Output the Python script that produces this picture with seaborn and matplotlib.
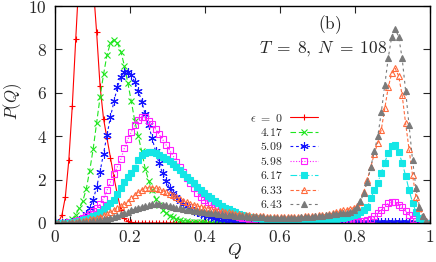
import numpy as np
import pandas as pd
import matplotlib
matplotlib.use("Agg")
import matplotlib.pyplot as plt
import seaborn as sns

# ---------------------------------------------
# DATA  (overlap Q = n/N with N = 108)
# ---------------------------------------------
Q = np.arange(109) / 108

eps_labels = [r"$\epsilon\ =\ 0$", r"$4.17$", r"$5.09$", r"$5.98$",
              r"$6.17$", r"$6.33$", r"$6.43$"]

p_eps0 = [0, 0.05, 0.35, 1.2, 2.9, 5.4, 8.5, 11.5, 13.5, 14.0,
          13.0, 11.0, 8.8, 6.3, 4.8, 3.9, 3.0, 2.1, 1.3, 0.6,
          0.22, 0.08, 0.03, 0.01, 0, 0, 0, 0, 0, 0,
          0, 0, 0, 0, 0, 0, 0, 0, 0, 0,
          0, 0, 0, 0, 0, 0, 0, 0, 0, 0,
          0, 0, 0, 0, 0, 0, 0, 0, 0, 0,
          0, 0, 0, 0, 0, 0, 0, 0, 0, 0,
          0, 0, 0, 0, 0, 0, 0, 0, 0, 0,
          0, 0, 0, 0, 0, 0, 0, 0, 0, 0,
          0, 0, 0, 0, 0, 0, 0, 0, 0, 0,
          0, 0, 0, 0, 0, 0, 0, 0, 0]

p_417 = [0, 0, 0.01, 0.04, 0.1, 0.2, 0.38, 0.68, 1.0, 1.55,
         2.4, 3.4, 4.6, 5.8, 6.85, 7.75, 8.3, 8.45, 8.3, 7.9,
         7.25, 6.45, 5.6, 4.7, 4.0, 3.3, 2.5, 1.95, 1.5, 1.12,
         0.82, 0.6, 0.45, 0.34, 0.26, 0.2, 0.15, 0.11, 0.08, 0.06,
         0.05, 0.04, 0.03, 0.03, 0.02, 0.02, 0.02, 0.01, 0.01, 0.01,
         0.01, 0.01, 0.01, 0.01, 0, 0, 0, 0, 0, 0,
         0, 0, 0, 0, 0, 0, 0, 0, 0, 0,
         0, 0, 0, 0, 0, 0, 0, 0, 0, 0,
         0, 0, 0, 0, 0, 0, 0, 0, 0, 0,
         0, 0, 0, 0, 0, 0, 0, 0, 0, 0,
         0, 0, 0, 0, 0, 0, 0, 0, 0]

p_509 = [0, 0, 0, 0, 0.01, 0.03, 0.07, 0.14, 0.25, 0.42,
         0.68, 1.06, 1.64, 2.37, 3.2, 4.05, 4.9, 5.6, 6.28, 6.71,
         6.97, 6.97, 6.8, 6.5, 6.1, 5.59, 5.02, 4.5, 3.9, 3.3,
         2.75, 2.3, 1.95, 1.62, 1.38, 1.2, 1.03, 0.88, 0.76, 0.66,
         0.57, 0.49, 0.42, 0.36, 0.3, 0.26, 0.23, 0.2, 0.17, 0.15,
         0.13, 0.12, 0.11, 0.1, 0.09, 0.08, 0.08, 0.07, 0.07, 0.06,
         0.06, 0.06, 0.05, 0.05, 0.05, 0.05, 0.04, 0.04, 0.04, 0.04,
         0.04, 0.04, 0.04, 0.04, 0.03, 0.03, 0.03, 0.03, 0.03, 0.03,
         0.03, 0.03, 0.03, 0.03, 0.03, 0.03, 0.03, 0.03, 0.03, 0.03,
         0.03, 0.03, 0.03, 0.03, 0.03, 0.03, 0.03, 0.03, 0.03, 0.03,
         0.03, 0.03, 0.03, 0.02, 0.02, 0.02, 0.01, 0.01, 0]

p_598 = [0, 0, 0.01, 0.02, 0.03, 0.05, 0.08, 0.15, 0.22, 0.3,
         0.42, 0.55, 0.68, 0.86, 1.12, 1.5, 1.9, 2.25, 2.6, 2.95,
         3.44, 3.85, 4.2, 4.5, 4.75, 4.88, 4.88, 4.72, 4.55, 4.32,
         4.08, 3.85, 3.6, 3.36, 3.1, 2.83, 2.58, 2.35, 2.06, 1.82,
         1.6, 1.4, 1.2, 1.07, 0.98, 0.87, 0.76, 0.66, 0.57, 0.5,
         0.44, 0.38, 0.33, 0.29, 0.25, 0.22, 0.19, 0.17, 0.15, 0.13,
         0.12, 0.11, 0.1, 0.09, 0.08, 0.08, 0.07, 0.07, 0.06, 0.06,
         0.06, 0.06, 0.05, 0.05, 0.05, 0.05, 0.05, 0.05, 0.05, 0.05,
         0.05, 0.05, 0.05, 0.05, 0.05, 0.05, 0.05, 0.06, 0.07, 0.08,
         0.12, 0.2, 0.3, 0.45, 0.6, 0.75, 0.9, 0.97, 0.95, 0.85,
         0.72, 0.55, 0.38, 0.2, 0.1, 0.04, 0.01, 0, 0]

p_617 = [0, 0, 0, 0.01, 0.02, 0.03, 0.05, 0.08, 0.12, 0.17,
         0.23, 0.3, 0.37, 0.5, 0.64, 0.78, 0.9, 1.08, 1.33, 1.6,
         1.9, 2.12, 2.3, 2.55, 2.88, 3.12, 3.24, 3.29, 3.28, 3.22,
         3.14, 3.05, 2.95, 2.84, 2.72, 2.58, 2.44, 2.28, 2.12, 1.97,
         1.82, 1.66, 1.52, 1.38, 1.26, 1.14, 1.02, 0.9, 0.8, 0.71,
         0.63, 0.56, 0.49, 0.43, 0.38, 0.33, 0.29, 0.26, 0.23, 0.21,
         0.19, 0.17, 0.16, 0.15, 0.14, 0.13, 0.13, 0.12, 0.12, 0.12,
         0.12, 0.12, 0.12, 0.12, 0.13, 0.13, 0.14, 0.15, 0.16, 0.17,
         0.18, 0.2, 0.22, 0.25, 0.28, 0.32, 0.37, 0.43, 0.5, 0.6,
         0.75, 1.14, 1.52, 1.86, 2.32, 2.78, 3.24, 3.55, 3.58, 3.28,
         2.78, 2.18, 1.52, 0.94, 0.5, 0.22, 0.08, 0.02, 0]

p_633 = [0, 0, 0, 0.01, 0.02, 0.03, 0.05, 0.07, 0.1, 0.13,
         0.16, 0.2, 0.24, 0.29, 0.35, 0.42, 0.5, 0.58, 0.68, 0.79,
         0.86, 0.98, 1.13, 1.28, 1.42, 1.53, 1.6, 1.63, 1.63, 1.6,
         1.55, 1.49, 1.42, 1.35, 1.27, 1.19, 1.1, 1.02, 0.95, 0.89,
         0.83, 0.78, 0.74, 0.7, 0.67, 0.63, 0.6, 0.57, 0.54, 0.52,
         0.49, 0.46, 0.43, 0.41, 0.39, 0.37, 0.35, 0.33, 0.32, 0.31,
         0.3, 0.29, 0.28, 0.28, 0.27, 0.27, 0.27, 0.27, 0.27, 0.28,
         0.28, 0.29, 0.3, 0.3, 0.31, 0.33, 0.35, 0.37, 0.39, 0.42,
         0.45, 0.5, 0.54, 0.58, 0.62, 0.66, 0.7, 0.8, 0.95, 1.45,
         2.0, 2.6, 3.2, 3.7, 4.3, 5.28, 6.25, 6.9, 7.13, 6.77,
         5.9, 4.6, 3.4, 2.2, 1.2, 0.68, 0.3, 0.1, 0]

p_643 = [0, 0, 0, 0, 0.01, 0.01, 0.02, 0.03, 0.04, 0.05,
         0.06, 0.08, 0.1, 0.13, 0.16, 0.2, 0.24, 0.29, 0.34, 0.4,
         0.46, 0.52, 0.58, 0.64, 0.7, 0.75, 0.8, 0.84, 0.87, 0.88,
         0.87, 0.85, 0.82, 0.78, 0.74, 0.71, 0.68, 0.65, 0.62, 0.59,
         0.57, 0.55, 0.52, 0.5, 0.48, 0.46, 0.44, 0.42, 0.4, 0.38,
         0.36, 0.35, 0.33, 0.32, 0.31, 0.3, 0.29, 0.28, 0.27, 0.26,
         0.26, 0.25, 0.25, 0.25, 0.24, 0.24, 0.24, 0.24, 0.24, 0.25,
         0.25, 0.26, 0.27, 0.28, 0.29, 0.3, 0.32, 0.34, 0.36, 0.38,
         0.4, 0.42, 0.44, 0.46, 0.47, 0.5, 0.58, 0.75, 1.0, 1.4,
         1.9, 2.6, 3.3, 4.0, 5.1, 6.36, 7.6, 8.59, 8.94, 8.59,
         7.6, 6.1, 4.5, 2.9, 1.6, 0.75, 0.3, 0.08, 0]

series = [p_eps0, p_417, p_509, p_598, p_617, p_633, p_643]

# ---------------------------------------------
# STYLES (gnuplot look)
# ---------------------------------------------
styles = [
    dict(color="#ff0000", marker="+", ms=5, mfc="#ff0000", ls="-"),
    dict(color="#1ee61e", marker="x", ms=4.5, mfc="#1ee61e", ls=(0, (5, 2.5))),
    dict(color="#1414ff", marker=(6, 2, 0), ms=6, mfc="#1414ff", ls=(0, (2.5, 2.5))),
    dict(color="#ff1eff", marker="s", ms=4.5, mfc="none", ls=(0, (1, 1.5))),
    dict(color="#14e6e6", marker="s", ms=4.5, mfc="#14e6e6", ls=(0, (6, 2, 1, 2))),
    dict(color="#ff6a3c", marker="^", ms=4.5, mfc="none", ls=(0, (3, 2))),
    dict(color="#7a7a7a", marker="^", ms=4.2, mfc="#7a7a7a", ls=(0, (2.5, 3))),
]

sns.set_style("ticks")
plt.rcParams["mathtext.fontset"] = "cm"
plt.rcParams["font.family"] = ["DejaVu Serif"]

fig = plt.figure(figsize=(4.36, 2.62), dpi=100)
ax = fig.add_axes([0.126, 0.149, 0.86, 0.828])

for vals, lab, st in zip(series, eps_labels, styles):
    sns.lineplot(x=Q, y=vals, ax=ax, label=lab, color=st["color"],
                 linestyle=st["ls"], linewidth=0.8,
                 marker=st["marker"], markersize=st["ms"],
                 markerfacecolor=st["mfc"], markeredgecolor=st["color"],
                 markeredgewidth=0.8, clip_on=True)

ax.set_xlim(0, 1)
ax.set_ylim(0, 10)
ax.set_xticks([0, 0.2, 0.4, 0.6, 0.8, 1])
ax.set_xticklabels([r"$0$", r"$0.2$", r"$0.4$", r"$0.6$", r"$0.8$", r"$1$"])
ax.set_yticks([0, 2, 4, 6, 8, 10])
ax.set_yticklabels([r"$0$", r"$2$", r"$4$", r"$6$", r"$8$", r"$10$"])
ax.tick_params(axis="both", direction="in", length=5, width=0.8,
               top=True, right=True, labelsize=12.5)
ax.tick_params(axis="x", pad=4)
ax.tick_params(axis="y", pad=6)
for sp in ax.spines.values():
    sp.set_linewidth(1.0)
    sp.set_color("black")

ax.set_xlabel(r"$Q$", fontsize=12.5)
ax.xaxis.set_label_coords(0.48, -0.085)
ax.set_ylabel(r"$P(Q)$", fontsize=12)
ax.yaxis.set_label_coords(-0.082, 0.56)

ax.text(0.545, 8.0, r"$T\;=\;8,\;N\;=\;108$", fontsize=12.5, ha="left", va="center")
ax.text(0.732, 9.15, r"$(\mathrm{b})$", fontsize=12.5, ha="center", va="center")

leg = ax.legend(loc="upper right", bbox_to_anchor=(0.715, 0.535), frameon=False,
                markerfirst=False, fontsize=8.5, handlelength=2.4,
                labelspacing=0.12, borderaxespad=0, handletextpad=0.6)

fig.savefig("out.png", dpi=100)
